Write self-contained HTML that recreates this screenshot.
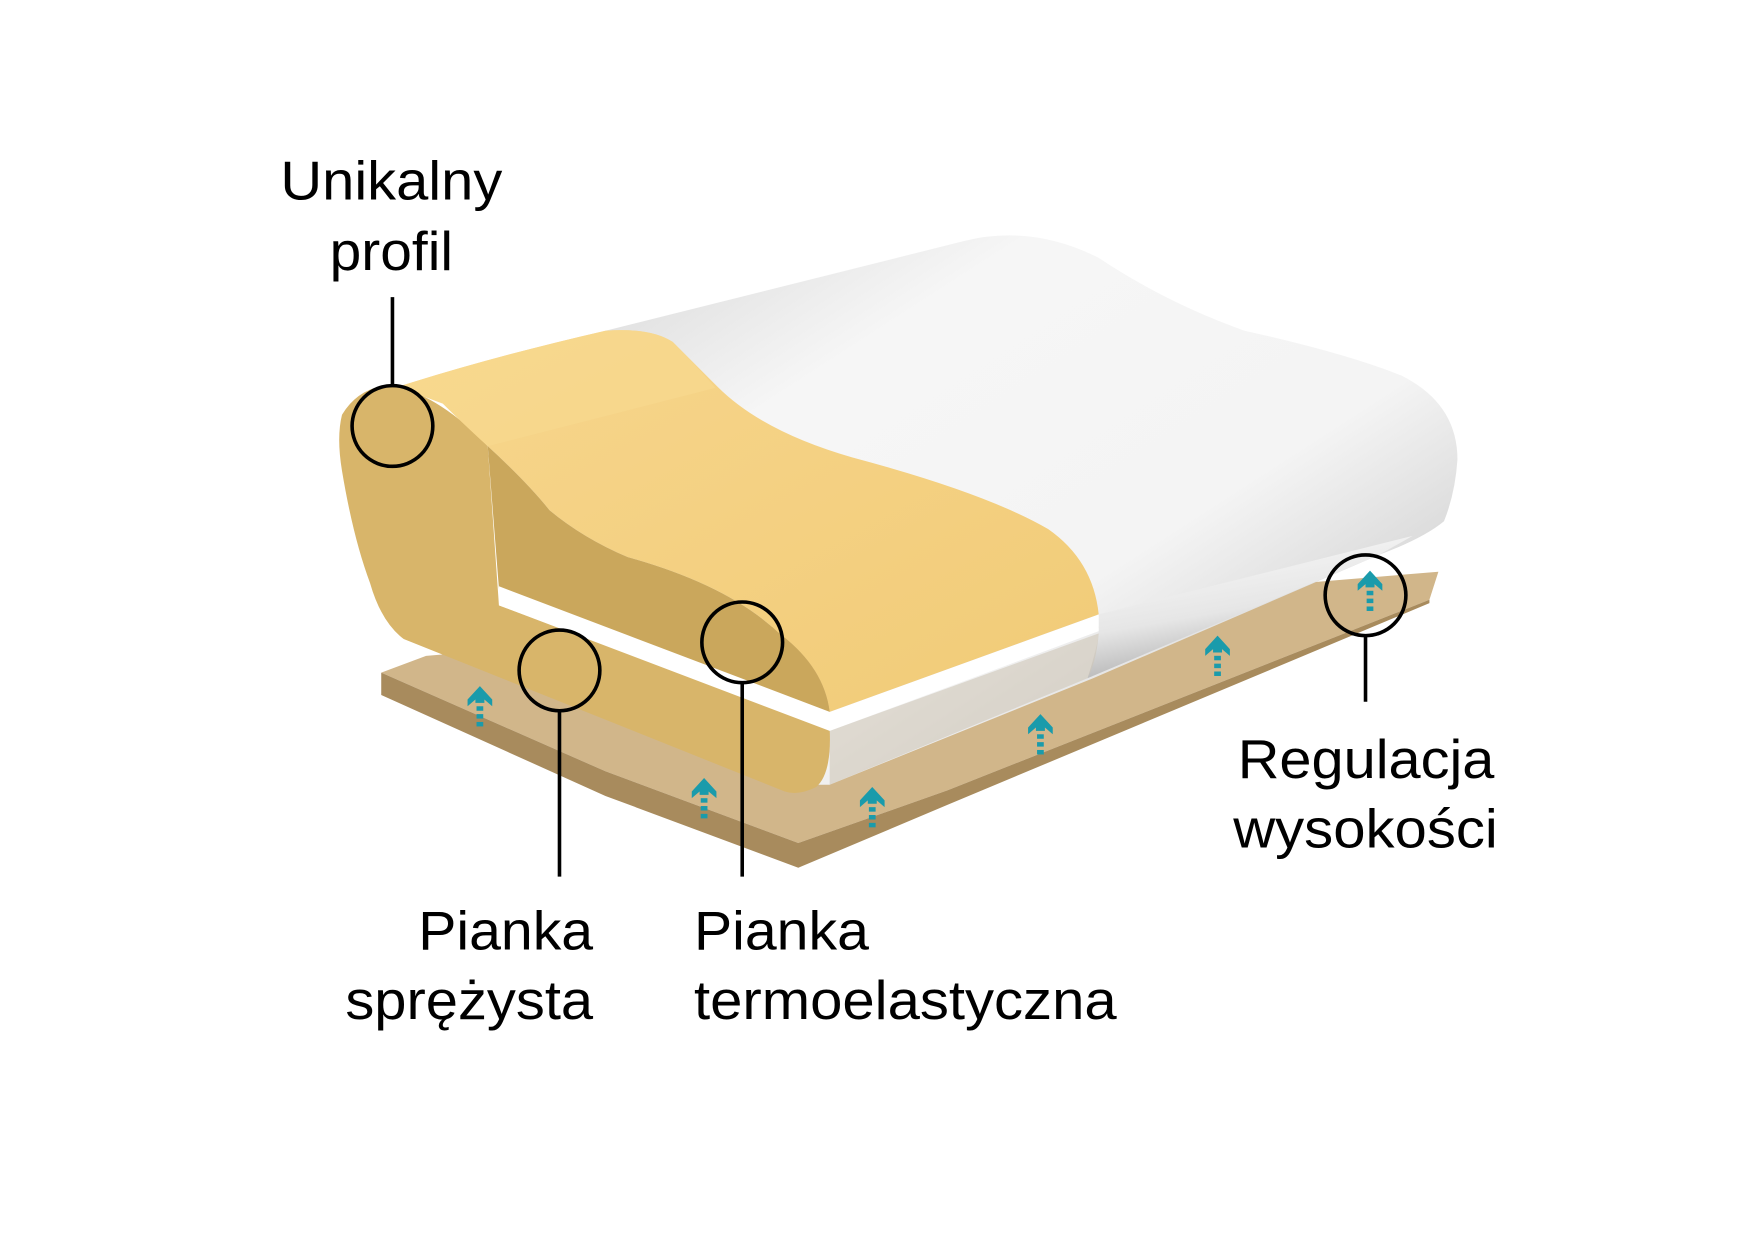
<!DOCTYPE html>
<html><head><meta charset="utf-8"><style>
html,body{margin:0;padding:0;background:#fff;}
svg{display:block;}
text{font-family:"Liberation Sans",sans-serif;font-size:49px;fill:#000;}
</style></head><body>
<svg width="1749" height="1241" viewBox="0 0 1560 1107" xmlns="http://www.w3.org/2000/svg">
<defs>
<linearGradient id="wg" x1="0" y1="0" x2="1" y2="1">
<stop offset="0" stop-color="#d8d8d8"/><stop offset="0.25" stop-color="#f6f6f6"/><stop offset="0.6" stop-color="#f4f4f4"/><stop offset="1" stop-color="#b8b8b8"/>
</linearGradient>
<linearGradient id="wf" x1="0" y1="0" x2="0.4" y2="1">
<stop offset="0" stop-color="#ffffff"/><stop offset="0.6" stop-color="#e6e6e6"/><stop offset="1" stop-color="#a8a8a8"/>
</linearGradient>
<linearGradient id="yt" x1="0" y1="0" x2="1" y2="1">
<stop offset="0" stop-color="#f7d68d"/><stop offset="1" stop-color="#f1cb77"/>
</linearGradient>
<g id="ar"><polygon points="0,-18 11,-6 11,0 4,-6 4,-3 -4,-3 -4,-6 -11,0 -11,-6"/><rect x="-3" y="0" width="6" height="4"/><rect x="-3" y="7" width="6" height="4"/><rect x="-3" y="14" width="6" height="4"/></g>
</defs>
<!-- base board -->
<polygon points="340,600 380,585 1283,510 1275,535 845,705 712,752 540,688" fill="#d1b68a"/>
<polygon points="340,600 540,688 712,752 845,705 1275,535 1275,538 845,718 712,774 540,710 340,620" fill="#a88b5d"/>
<!-- white pillow body -->
<path d="M540,295 L860,215 Q920,200 980,230 Q1040,270 1110,295 Q1200,315 1250,335 Q1300,360 1300,410 Q1298,440 1288,465 Q1270,480 1230,495 L975,605 L740,700 L720,700 L740,650 L980,560 L978,540 Q960,480 860,440 L700,395 Q640,370 600,320 Z" fill="url(#wg)"/>
<path d="M980,548 L1260,478 L1230,495 L970,605 Q978,580 980,565 Z" fill="url(#wf)"/>
<path d="M740,652 L980,565 Q978,590 970,605 L740,700 Z" fill="#cfc6b8" opacity="0.6"/>
<!-- yellow left/front profile -->
<path d="M305,370 Q320,345 350,343 Q395,355 435,398 L445,540 L740,650 Q742,690 728,702 Q712,710 700,706 L360,570 Q340,555 330,520 Q315,480 305,420 Q300,390 305,370 Z" fill="#d8b56a"/>
<!-- top yellow surface -->
<path d="M355,345 Q440,318 540,295 Q580,292 600,305 Q620,325 640,345 Q680,385 760,408 Q880,440 935,472 Q975,500 980,548 L740,635 Q735,595 695,565 Q650,522 560,497 Q520,480 490,455 Q470,430 435,398 Q410,375 395,360 Z" fill="url(#yt)"/>
<path d="M355,345 Q440,318 540,295 Q580,292 600,305 Q620,325 638,346 L435,398 Q410,375 395,360 Z" fill="#f8d98f" opacity="0.7"/>
<!-- inner darker face -->
<path d="M435,398 Q470,430 490,455 Q520,480 560,497 Q650,522 695,565 Q735,595 740,635 L445,525 Z" fill="#caa75c"/>
<!-- white gap strip -->
<polygon points="445,523 740,635 980,548 980,563 740,652 445,540" fill="#fff"/>
<!-- arrows -->
<g fill="#1a9bab">
<use href="#ar" x="428" y="630"/><use href="#ar" x="628" y="712"/><use href="#ar" x="778" y="720"/><use href="#ar" x="928" y="655"/><use href="#ar" x="1086" y="585"/><use href="#ar" x="1222" y="527"/>
</g>
<!-- callouts -->
<g fill="none" stroke="#000" stroke-width="3.2">
<circle cx="350" cy="380" r="36"/><line x1="350" y1="265" x2="350" y2="344"/>
<circle cx="499" cy="598" r="36"/><line x1="499" y1="634" x2="499" y2="782"/>
<circle cx="662" cy="573" r="36"/><line x1="662" y1="609" x2="662" y2="782"/>
<circle cx="1218" cy="531" r="36"/><line x1="1218" y1="567" x2="1218" y2="626"/>
</g>
<text x="250" y="178" textLength="198" lengthAdjust="spacingAndGlyphs">Unikalny</text>
<text x="294" y="241" textLength="110" lengthAdjust="spacingAndGlyphs">profil</text>
<text x="373" y="847" textLength="156" lengthAdjust="spacingAndGlyphs">Pianka</text>
<text x="308" y="909" textLength="221" lengthAdjust="spacingAndGlyphs">sprężysta</text>
<text x="619" y="847" textLength="156" lengthAdjust="spacingAndGlyphs">Pianka</text>
<text x="619" y="909" textLength="377" lengthAdjust="spacingAndGlyphs">termoelastyczna</text>
<text x="1104" y="694" textLength="229" lengthAdjust="spacingAndGlyphs">Regulacja</text>
<text x="1100" y="756" textLength="236" lengthAdjust="spacingAndGlyphs">wysokości</text>
</svg>
</body></html>
